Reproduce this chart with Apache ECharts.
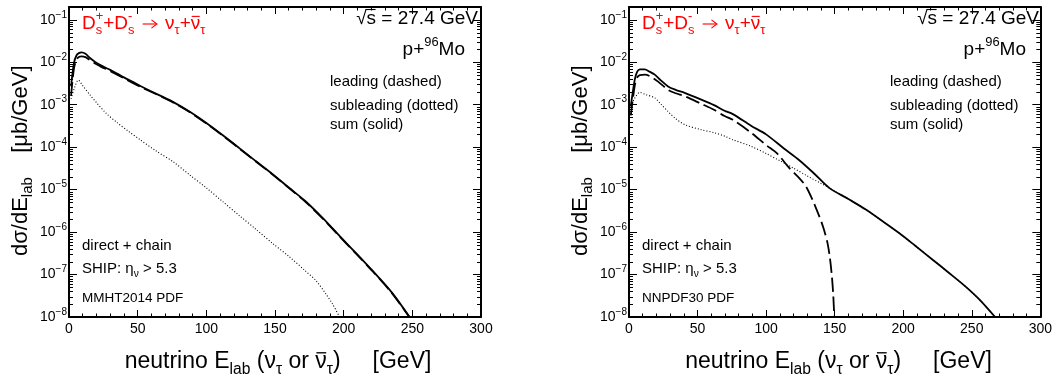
<!DOCTYPE html>
<html><head><meta charset="utf-8">
<script src="https://cdn.jsdelivr.net/npm/echarts@6/dist/echarts.min.js"></script>
<style>html,body{margin:0;padding:0;background:#fff}#c{width:1055px;height:383px}</style>
</head><body><div id="c"></div>
<script>
// ---------------- data ----------------
const yMin = 1e-8, yMax = 0.2;
const xMin = 0, xMax = 300, xStep = 50;

// Left panel: MMHT2014 PDF
const mmhtSumE  = [1.5,3.6,5.6,7.5,9.2,12,15.3,19,22.5,26,30,35,40,46,52,60,68,76,88,100,112,124,136,148,160,172,185,197,209,221,235,248];
const mmhtSum   = [2.69e-3,9.55e-3,1.48e-2,1.66e-2,1.70e-2,1.58e-2,1.26e-2,1.02e-2,8.7e-3,7.6e-3,6.6e-3,5.4e-3,4.4e-3,3.5e-3,2.75e-3,2.04e-3,1.55e-3,1.15e-3,6.8e-4,3.7e-4,1.9e-4,9.5e-5,4.7e-5,2.35e-5,1.12e-5,5.4e-6,2.1e-6,8.1e-7,3.2e-7,1.23e-7,3.8e-8,1.0e-8];
const mmhtLead  = [1.6e-3,7.1e-3,1.17e-2,1.35e-2,1.38e-2,1.32e-2,1.12e-2,9.3e-3,8.1e-3,7.1e-3,6.2e-3,5.1e-3,4.2e-3,3.3e-3,2.63e-3,2.0e-3,1.51e-3,1.12e-3,6.6e-4,3.6e-4,1.86e-4,9.3e-5,4.6e-5,2.3e-5,1.1e-5,5.2e-6,2.05e-6,7.9e-7,3.1e-7,1.2e-7,3.7e-8,9.8e-9];
const mmhtSubE  = [1.5,4,6.8,10,15.3,20,27,35,43,52,63,76,88,100,112,124,136,148,160,172,180,187,192,197];
const mmhtSub   = [1.38e-3,2.5e-3,3.8e-3,2.8e-3,1.7e-3,1.12e-3,6.3e-4,3.8e-4,2.4e-4,1.48e-4,8.3e-5,4.5e-5,2.2e-5,1.1e-5,5.2e-6,2.45e-6,1.17e-6,5.5e-7,2.7e-7,1.23e-7,7.1e-8,3.5e-8,2.0e-8,1.0e-8];

// Right panel: NNPDF30 PDF
const nnpdfSumE  = [1.3,4.2,6,7.9,11.5,15,18.8,23,28.5,34,40.6,52.7,62,69.7,75.7,89,100,113,124,135,146,160,172.7,185,197,209,221,233,245.5,256,267];
const nnpdfSum   = [9.1e-4,3.9e-3,6.0e-3,6.8e-3,6.8e-3,6.0e-3,5.1e-3,3.8e-3,2.7e-3,2.24e-3,1.9e-3,1.32e-3,9.8e-4,7.2e-4,6.0e-4,3.2e-4,2.0e-4,9.3e-5,5.0e-5,2.4e-5,1.1e-5,6.0e-6,3.4e-6,1.8e-6,9.5e-7,4.7e-7,2.3e-7,1.12e-7,5.2e-8,2.5e-8,1.0e-8];
const nnpdfLeadE = [1.3,4.2,6,7.9,11.5,15.2,21.2,28.5,34,40.6,52.7,62,69.7,75.7,89,100,108,117,124,129,134,138.8,142,144.8,146.5,148,149,149.7];
const nnpdfLead  = [5.6e-4,2.8e-3,4.4e-3,5.0e-3,5.1e-3,4.7e-3,3.5e-3,2.24e-3,1.86e-3,1.58e-3,1.05e-3,7.6e-4,5.4e-4,4.4e-4,2.2e-4,1.12e-4,7.1e-5,3.2e-5,1.9e-5,1.2e-5,5.6e-6,2.34e-6,1.2e-6,5.5e-7,2.5e-7,8.9e-8,3.2e-8,1.0e-8];
const nnpdfSubE  = [1.3,4,7.9,12,18.8,23,28.5,34,40.6,52.7,62,69.7,75.7,89,100,110,120,130,140,146,160,172.7,185,197,209,221,233,245.5,256,267];
const nnpdfSub   = [9.1e-4,1.4e-3,1.95e-3,1.74e-3,1.45e-3,1.05e-3,6.9e-4,4.7e-4,3.4e-4,2.57e-4,2.2e-4,1.82e-4,1.5e-4,1.05e-4,7.1e-5,4.8e-5,3.2e-5,2.1e-5,1.4e-5,1.1e-5,6.0e-6,3.4e-6,1.8e-6,9.5e-7,4.7e-7,2.3e-7,1.12e-7,5.2e-8,2.5e-8,1.0e-8];

const pdfLabels = ['MMHT2014 PDF', 'NNPDF30 PDF'];

// minor log ticks (2..9 x 10^n)
const yMinorTicks = [];
for (let e = -8; e <= -1; e++) for (let k = 2; k <= 9; k++) { const v = k * Math.pow(10, e); if (v < yMax) yMinorTicks.push(v); }

// ---------------- layout ----------------
const FONT = '"Liberation Sans", Arial, Helvetica, sans-serif';
const GRIDS = [{left: 69, top: 7, width: 412, height: 310}, {left: 629, top: 7, width: 413, height: 310}];

const mctx = document.createElement('canvas').getContext('2d');
function tw(t, s) { mctx.font = s + 'px ' + FONT; return mctx.measureText(t).width; }
function textEl(t, x, y, size, color) {
  return {type: 'text', x: x, y: y, silent: true,
    style: {text: t, fontSize: size, fontFamily: FONT, fill: color, align: 'left', verticalAlign: 'middle', textAlign: 'left', textVerticalAlign: 'middle'}};
}
function lineEl(x1, y1, x2, y2, color, w) {
  return {type: 'line', silent: true, shape: {x1: x1, y1: y1, x2: x2, y2: y2}, style: {stroke: color, lineWidth: w}};
}
function placeRuns(runs, S, color, x, y, align, rotation) {
  const els = []; let cx = 0; const sm = S * 0.68;
  runs.forEach(function (r) {
    if (typeof r === 'string') r = {t: r};
    if (r.stack) {
      els.push(textEl(r.stack[0], cx, S * 0.33, sm, color));
      els.push(textEl(r.stack[1], cx, -S * 0.42, sm, color));
      cx += Math.max(tw(r.stack[0], sm), tw(r.stack[1], sm));
    } else if (r.sub !== undefined) {
      els.push(textEl(r.sub, cx, S * 0.33, sm, color)); cx += tw(r.sub, sm);
    } else if (r.sup !== undefined) {
      els.push(textEl(r.sup, cx, -S * 0.42, sm, color)); cx += tw(r.sup, sm);
    } else if (r.arrow) {
      // long right arrow drawn as a glyph-like path
      const w = S * r.arrow, sw = Math.max(1, S / 17), h = S * 0.22;
      els.push(lineEl(cx + S * 0.15, 0, cx + w - S * 0.15, 0, color, sw));
      els.push({type: 'polyline', silent: true, shape: {points: [[cx + w - S * 0.15 - h * 1.3, -h], [cx + w - S * 0.15, 0], [cx + w - S * 0.15 - h * 1.3, h]]}, style: {stroke: color, lineWidth: sw, fill: 'none'}});
      cx += w;
    } else {
      const w = tw(r.t, S);
      els.push(textEl(r.t, cx, 0, S, color));
      if (r.over) els.push(lineEl(cx + (r.ox || w * 0.1), -S * (r.oy || 0.4), cx + w * 0.95, -S * (r.oy || 0.4), color, Math.max(1, S / 17)));
      cx += w;
    }
  });
  const off = align === 'right' ? -cx : (align === 'center' ? -cx / 2 : 0);
  els.forEach(function (e) {
    if (e.type === 'text') e.x += off;
    else if (e.type === 'line') { e.shape.x1 += off; e.shape.x2 += off; }
    else e.shape.points.forEach(function (p) { p[0] += off; });
  });
  return {type: 'group', x: x, y: y, rotation: rotation || 0, children: els};
}

const graphics = [];
GRIDS.forEach(function (g, i) {
  const L = g.left, R = g.left + g.width;
  graphics.push(placeRuns(['D', {stack: ['s', '+']}, '+D', {stack: ['s', '-']}, ' ', {arrow: 1.05}, ' \u03bd', {sub: '\u03c4'}, '+', {t: '\u03bd', over: true}, {sub: '\u03c4'}], 19, '#ff0000', L + 13, 24, 'left'));
  graphics.push(placeRuns(['\u221a', {t: 's', over: true, ox: -1, oy: 0.5}, ' = 27.4 GeV'], 19, '#000', R - 3, 19, 'right'));
  graphics.push(placeRuns(['p+', {sup: '96'}, 'Mo'], 19, '#000', R - 16, 50, 'right'));
  graphics.push(placeRuns(['leading (dashed)'], 15, '#000', L + 261, 82, 'left'));
  graphics.push(placeRuns(['subleading (dotted)'], 15, '#000', L + 261, 106, 'left'));
  graphics.push(placeRuns(['sum (solid)'], 15, '#000', L + 261, 125, 'left'));
  graphics.push(placeRuns(['direct + chain'], 15, '#000', L + 13, 246, 'left'));
  graphics.push(placeRuns(['SHIP: \u03b7', {sub: '\u03bd'}, ' > 5.3'], 15, '#000', L + 13, 269, 'left'));
  graphics.push(placeRuns([pdfLabels[i]], 13.5, '#000', L + 13, 298, 'left'));
  // axis titles
  graphics.push(placeRuns(['neutrino E', {sub: 'lab'}, ' (\u03bd', {sub: '\u03c4'}, ' or ', {t: '\u03bd', over: true}, {sub: '\u03c4'}, ')     [GeV]'], 23, '#000', L + g.width / 2 + 3, 362, 'center'));
  graphics.push(placeRuns(['d\u03c3/dE', {sub: 'lab'}, '    [\u03bcb/GeV]'], 22, '#000', L - 48, 256, 'left', Math.PI / 2));
});

function pairs(xs, ys) { return xs.map(function (x, i) { return [x, ys[i]]; }); }
function powLabel(v) {
  const lg = Math.log10(v), e = Math.round(lg);
  if (Math.abs(lg - e) > 1e-6) return '';
  return '{b|10}{e|\u2212' + (-e) + '}';
}
const axisLineStyle = {color: '#000', width: 2};
const xAxes = [], yAxes = [];
[0, 1].forEach(function (i) {
  xAxes.push({type: 'value', gridIndex: i, min: xMin, max: xMax, interval: xStep, position: 'bottom',
    axisLine: {show: true, onZero: false, lineStyle: axisLineStyle},
    axisTick: {show: true, inside: true, length: 7, lineStyle: {color: '#000', width: 1}},
    minorTick: {show: true, splitNumber: 5, length: 3.5, lineStyle: {color: '#000', width: 1}},
    axisLabel: {fontSize: 14, color: '#000', margin: 5, fontFamily: FONT},
    splitLine: {show: false}, minorSplitLine: {show: false}});
});
[0, 1].forEach(function (i) {
  xAxes.push({type: 'value', gridIndex: i, min: xMin, max: xMax, interval: xStep, position: 'top',
    axisLine: {show: true, onZero: false, lineStyle: axisLineStyle},
    axisTick: {show: true, inside: true, length: 7, lineStyle: {color: '#000', width: 1}},
    minorTick: {show: true, splitNumber: 5, length: 3.5, lineStyle: {color: '#000', width: 1}},
    axisLabel: {show: false}, splitLine: {show: false}});
});
[0, 1].forEach(function (i) {
  yAxes.push({type: 'log', logBase: 10, gridIndex: i, min: yMin, max: yMax, position: 'left',
    axisLine: {show: true, onZero: false, lineStyle: axisLineStyle},
    axisTick: {show: true, inside: true, length: 8, lineStyle: {color: '#000', width: 1}},
    axisLabel: {formatter: powLabel, margin: 2, color: '#000',
      rich: {b: {fontSize: 14, lineHeight: 20, fontFamily: FONT, color: '#000'},
             e: {fontSize: 10, lineHeight: 12, verticalAlign: 'top', fontFamily: FONT, color: '#000'}}},
    splitLine: {show: false}});
});
[0, 1].forEach(function (i) {
  yAxes.push({type: 'log', logBase: 10, gridIndex: i, min: yMin, max: yMax, position: 'right',
    axisLine: {show: true, onZero: false, lineStyle: axisLineStyle},
    axisTick: {show: true, inside: true, length: 8, lineStyle: {color: '#000', width: 1}},
    axisLabel: {show: false}, splitLine: {show: false}});
});

function lineSeries(i, data, kind) {
  const ls = kind === 'solid' ? {color: '#000', width: 1.8, type: 'solid'}
           : kind === 'dashed' ? {color: '#000', width: 1.8, type: [14, 5]}
           : {color: '#000', width: 1.1, type: [1, 2]};
  return {type: 'line', xAxisIndex: i, yAxisIndex: i, data: data, showSymbol: false, symbol: 'none',
    smooth: 0.3, lineStyle: ls, silent: true, z: kind === 'solid' ? 4 : 3};
}
function minorTickSeries(i) {
  return {type: 'custom', xAxisIndex: i, yAxisIndex: i, silent: true, clip: false, z: 5,
    data: yMinorTicks.map(function (v) { return [0, v]; }),
    renderItem: function (params, api) {
      const p = api.coord([0, api.value(1)]);
      const cs = params.coordSys; const y = Math.round(p[1]) + 0.5; const len = 4;
      return {type: 'group', children: [
        {type: 'line', shape: {x1: cs.x, y1: y, x2: cs.x + len, y2: y}, style: {stroke: '#000', lineWidth: 1}},
        {type: 'line', shape: {x1: cs.x + cs.width - len, y1: y, x2: cs.x + cs.width, y2: y}, style: {stroke: '#000', lineWidth: 1}}
      ]};
    }};
}

const chart = echarts.init(document.getElementById('c'), null, {renderer: 'canvas'});
chart.setOption({
  animation: false,
  backgroundColor: '#fff',
  textStyle: {fontFamily: FONT},
  grid: GRIDS.map(function (g) { return {left: g.left, top: g.top, width: g.width, height: g.height, containLabel: false}; }),
  xAxis: xAxes,
  yAxis: yAxes,
  series: [
    lineSeries(0, pairs(mmhtSubE, mmhtSub), 'dotted'),
    lineSeries(0, pairs(mmhtSumE, mmhtLead), 'dashed'),
    lineSeries(0, pairs(mmhtSumE, mmhtSum), 'solid'),
    lineSeries(1, pairs(nnpdfSubE, nnpdfSub), 'dotted'),
    lineSeries(1, pairs(nnpdfLeadE, nnpdfLead), 'dashed'),
    lineSeries(1, pairs(nnpdfSumE, nnpdfSum), 'solid'),
    minorTickSeries(0),
    minorTickSeries(1)
  ],
  graphic: graphics
});
</script></body></html>
